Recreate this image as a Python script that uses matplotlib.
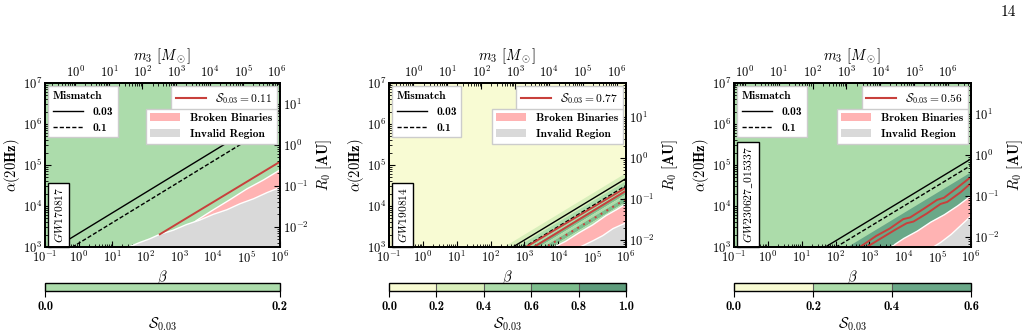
import numpy as np
import matplotlib
matplotlib.use("Agg")
import matplotlib.pyplot as plt
from matplotlib.colors import ListedColormap, BoundaryNorm
from matplotlib.cm import ScalarMappable
from matplotlib.lines import Line2D
from matplotlib.patches import Patch
from matplotlib.ticker import FuncFormatter, LogLocator, NullFormatter

plt.rcParams['font.family'] = ['cmb10', 'DejaVu Serif']
plt.rcParams['mathtext.fontset'] = 'cm'
plt.rcParams['axes.unicode_minus'] = False
plt.rcParams['axes.linewidth'] = 1.2

# ---------------- data ----------------
events = [r'$GW170817$', r'$GW190814$', r'$GW230627\_015337$']
s_frac = [0.11, 0.77, 0.56]

# colour-bar levels of S_0.03 and the colour of each interval
cbar_levels = [[0.0, 0.2],
               [0.0, 0.2, 0.4, 0.6, 0.8, 1.0],
               [0.0, 0.2, 0.4, 0.6]]
cbar_colors = [['#acdcab'],
               ['#f8fbd3', '#d9efbb', '#acdcaa', '#7dbd8d', '#5e9c7c'],
               ['#f8fbd3', '#acdcaa', '#6aa888']]
bg_level = [0, 0, 1]  # interval that fills the background

# diagonal S bands: alpha at beta = 1 of each band's upper edge, and its interval
band_top = [[],
            [66.0, 42.7, 26.3, 20.0, 17.4, 13.2],
            [66.1]]
band_level = [[],
              [1, 2, 3, 2, 3, 2],
              [2]]

# mismatch contours (alpha ~ beta^1/2), alpha at beta = 1
mm_003 = [2140.0, 46.8, 141.0]
mm_01 = [1230.0, 31.6, 98.0]

# S_0.03 threshold contours, log10(beta), log10(alpha)
red_solid = [
    [([2.42, 6.0], [3.31, 5.08])],
    [([3.05, 6.0], [3.0, 4.45]), ([3.28, 6.0], [3.0, 4.37])],
    [([2.72, 3.2, 3.6, 4.0, 4.2, 4.6, 5.0, 5.2, 5.6, 6.0],
      [3.0, 3.27, 3.45, 3.68, 3.72, 3.93, 4.15, 4.2, 4.45, 4.71]),
     ([2.92, 3.4, 3.8, 4.1, 4.3, 4.7, 5.1, 5.3, 5.7, 6.0],
      [3.0, 3.24, 3.44, 3.58, 3.62, 3.82, 4.05, 4.1, 4.34, 4.56])],
]
red_dotted = [[], [([3.7, 6.0], [3.03, 4.17])], []]

# broken-binary region upper edge
broken_x = [[2.5, 3.5, 4.0, 4.5, 5.0, 5.5, 6.0],
            [3.84, 4.2, 4.6, 5.0, 5.4, 5.7, 6.0],
            [3.6, 4.0, 4.4, 4.8, 5.2, 5.6, 6.0]]
broken_y = [[3.0, 3.66, 3.92, 4.17, 4.43, 4.65, 4.9],
            [3.0, 3.15, 3.36, 3.55, 3.78, 3.92, 4.07],
            [3.0, 3.22, 3.4, 3.62, 3.8, 4.02, 4.27]]

# invalid region upper edge
invalid_x = [[1.45, 1.8, 2.1, 2.4, 2.8, 3.2, 3.6, 4.0, 4.4, 4.8, 5.2, 5.6, 6.0],
             [4.6, 5.0, 5.3, 5.6, 6.0],
             [4.85, 5.1, 5.4, 5.7, 6.0]]
invalid_y = [[3.0, 3.12, 3.21, 3.32, 3.42, 3.56, 3.67, 3.81, 3.92, 4.07, 4.19, 4.34, 4.47],
             [3.0, 3.16, 3.29, 3.46, 3.61],
             [3.0, 3.13, 3.32, 3.55, 3.78]]

# secondary axes: m3 / beta and R0[AU] / alpha
m3_per_beta = [1.25, 1.9, 4.8]
r0_per_alpha = [3.2e-6, 6.8e-6, 5.8e-6]

beta_lim = (1e-1, 1e6)
alpha_lim = (1e3, 1e7)

# ---------------- layout (pixels) ----------------
W, H = 1025, 333
ax_left = [45, 389, 734]
ax_width = [235, 237, 237]

fig = plt.figure(figsize=(W / 100, H / 100), dpi=100)

pow_fmt = FuncFormatter(lambda v, p: r'$\mathbf{10^{%d}}$' % int(round(np.log10(v))))
red = '#c8403c'
pink = '#ffb3b3'
grey = '#d9d9d9'
tick_fs = 9
label_fs = 10.5
leg_fs = 8.3


def log_axis(axis):
    axis.set_major_locator(LogLocator(base=10, numticks=20))
    axis.set_minor_locator(LogLocator(base=10, subs=np.arange(2, 10), numticks=20))
    axis.set_major_formatter(pow_fmt)
    axis.set_minor_formatter(NullFormatter())


def style_ticks(a):
    a.tick_params(which='both', direction='in', labelsize=tick_fs, pad=2)
    a.tick_params(which='major', length=4)
    a.tick_params(which='minor', length=2)


beta = np.logspace(-1, 6, 60)

for i in range(3):
    ax = fig.add_axes([ax_left[i] / W, 86 / H, ax_width[i] / W, 164 / H])
    cols = cbar_colors[i]
    ax.set_facecolor(cols[bg_level[i]])
    ax.set_xscale('log')
    ax.set_yscale('log')

    # S bands
    tops = band_top[i]
    for k, a_top in enumerate(tops):
        a_low = tops[k + 1] if k + 1 < len(tops) else 1e-3
        ax.fill_between(beta, a_low * beta ** 0.5, a_top * beta ** 0.5,
                        color=cols[band_level[i][k]], lw=0, zorder=1)

    # mismatch lines
    ax.plot(beta, mm_003[i] * beta ** 0.5, color='k', lw=1.0, zorder=3)
    ax.plot(beta, mm_01[i] * beta ** 0.5, color='k', lw=1.0, ls=(0, (3, 1.5)), zorder=3)

    # broken binaries and invalid region
    bx = 10 ** np.array(broken_x[i])
    ax.fill_between(bx, 1e2, 10 ** np.array(broken_y[i]), facecolor=pink,
                    edgecolor='white', lw=1.0, zorder=4)
    ix = 10 ** np.array(invalid_x[i])
    ax.fill_between(ix, 1e2, 10 ** np.array(invalid_y[i]), facecolor=grey,
                    edgecolor='white', lw=1.0, zorder=5)

    # S threshold contours
    for lx, ly in red_solid[i]:
        ax.plot(10 ** np.array(lx), 10 ** np.array(ly), color=red, lw=1.4, zorder=6)
    for lx, ly in red_dotted[i]:
        ax.plot(10 ** np.array(lx), 10 ** np.array(ly), color=red, lw=1.4,
                ls=(0, (1, 2.5)), zorder=6)

    ax.set_xlim(*beta_lim)
    ax.set_ylim(*alpha_lim)
    log_axis(ax.xaxis)
    log_axis(ax.yaxis)
    style_ticks(ax)
    ax.set_xlabel(r'$\beta$', fontsize=label_fs, labelpad=2)
    ax.set_ylabel(r'$\alpha\mathbf{(20Hz)}$', fontsize=label_fs, labelpad=1)

    # top axis: m3
    top = ax.twiny()
    top.set_xscale('log')
    top.set_xlim(beta_lim[0] * m3_per_beta[i], beta_lim[1] * m3_per_beta[i])
    log_axis(top.xaxis)
    style_ticks(top)
    top.set_xlabel(r'$m_3\ [M_\odot]$', fontsize=label_fs, labelpad=3)

    # right axis: R0
    right = ax.twinx()
    right.set_yscale('log')
    right.set_ylim(alpha_lim[0] * r0_per_alpha[i], alpha_lim[1] * r0_per_alpha[i])
    log_axis(right.yaxis)
    style_ticks(right)
    right.set_ylabel(r'$R_0\ \mathbf{[AU]}$', fontsize=label_fs, labelpad=4)

    leg_kw = dict(fontsize=leg_fs, framealpha=1, fancybox=False, edgecolor='0.8',
                  borderaxespad=0.3)
    l1 = right.legend([Line2D([], [], color='k', lw=1.0),
                       Line2D([], [], color='k', lw=1.0, ls=(0, (3, 1.5)))],
                      ['0.03', '0.1'], title='Mismatch', title_fontsize=leg_fs,
                      loc='upper left', bbox_to_anchor=(0.0, 1.0),
                      alignment='left', handlelength=2.6, **leg_kw)
    right.add_artist(l1)
    l2 = right.legend([Line2D([], [], color=red, lw=1.5)],
                      [r'$\mathcal{S}_{0.03} = %.2f$' % s_frac[i]],
                      loc='upper right', bbox_to_anchor=(1.0, 1.0),
                      handlelength=2.6, **leg_kw)
    right.add_artist(l2)
    right.legend([Patch(facecolor=pink), Patch(facecolor=grey)],
                 ['Broken Binaries', 'Invalid Region'],
                 loc='upper right', bbox_to_anchor=(1.0, 0.865),
                 handlelength=2.6, **leg_kw)

    ax.text(0.03, 0.025, events[i], rotation=90, transform=ax.transAxes,
            fontsize=8.3, ha='left', va='bottom', zorder=10,
            bbox=dict(boxstyle='square,pad=0.35', fc='white', ec='black', lw=1.0))

    # colour bar
    cax = fig.add_axes([ax_left[i] / W, 42 / H, ax_width[i] / W, 8 / H])
    cmap = ListedColormap(cols)
    norm = BoundaryNorm(cbar_levels[i], cmap.N)
    cb = fig.colorbar(ScalarMappable(norm=norm, cmap=cmap), cax=cax,
                      orientation='horizontal', ticks=cbar_levels[i],
                      drawedges=True)
    cb.dividers.set_color('0.35')
    cb.dividers.set_linewidth(0.8)
    cb.outline.set_linewidth(1.0)
    cax.set_xticklabels(['%.1f' % v for v in cbar_levels[i]])
    cax.tick_params(labelsize=tick_fs, length=4, pad=3)
    cb.set_label(r'$\mathcal{S}_{0.03}$', fontsize=label_fs, labelpad=2)

fig.text(1008 / W, 1 - 12 / H, '14', fontsize=11, family='cmr10',
         ha='center', va='center')

fig.savefig('out.png', dpi=100)
